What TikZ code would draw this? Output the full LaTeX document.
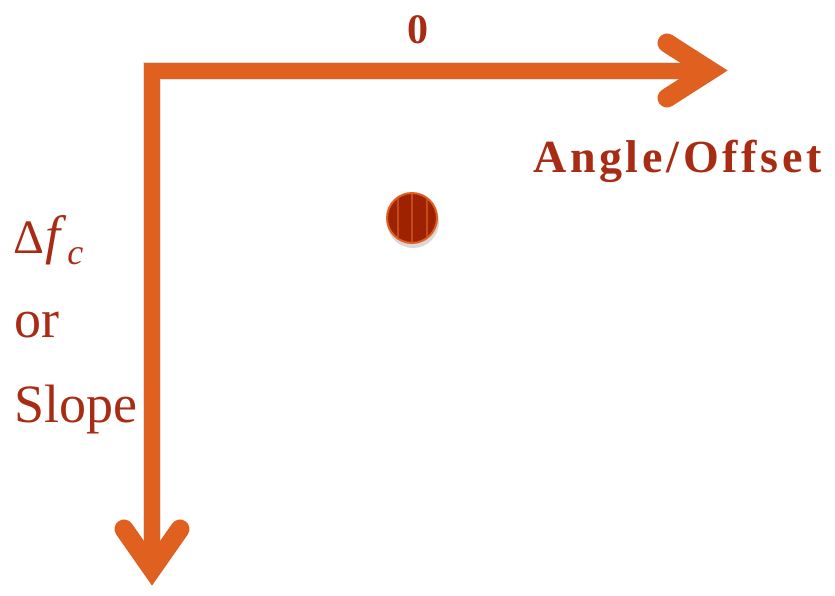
\documentclass[tikz,border=0pt]{standalone}
\usepackage{fontspec}
\setmainfont{Liberation Serif}
\definecolor{axorange}{RGB}{224,96,32}
\definecolor{txtred}{RGB}{168,44,20}
\definecolor{dotred}{RGB}{158,34,2}
\definecolor{stripe}{RGB}{196,74,22}
\tikzset{
  axisline/.style={draw=axorange, line width=16pt, line join=miter, line cap=butt},
  headline/.style={draw=axorange, line width=19pt, line join=miter, line cap=round},
  shadowline/.style={draw=black, opacity=0.12, line width=18pt, line join=miter},
  lbl/.style={inner sep=0pt, text=txtred},
}
\begin{document}
\begin{tikzpicture}[x=1pt,y=-1pt]
\useasboundingbox (0,0) rectangle (835,595);
% coordinates
\coordinate (corner) at (152,70.5);
\coordinate (xend) at (709,70.5);
\coordinate (yend) at (152,569);
\coordinate (xa1) at (667,43);
\coordinate (xtip) at (710,70.5);
\coordinate (xa2) at (667,98);
\coordinate (ya1) at (124,529);
\coordinate (ytip) at (152,569);
\coordinate (ya2) at (180,529);
% shadows
\begin{scope}[shift={(2,3)}]
\draw[shadowline, line cap=butt] (yend) -- (corner) -- (xend);
\draw[shadowline, line cap=round] (xa1) -- (xtip) -- (xa2);
\draw[shadowline, line cap=round] (ya1) -- (ytip) -- (ya2);
\end{scope}
% axes
\draw[axisline] (yend) -- (corner) -- (xend);
\draw[headline] (xa1) -- (xtip) -- (xa2);
\draw[headline] (ya1) -- (ytip) -- (ya2);
% dot
\fill[black, opacity=0.15] (413,222) circle (26);
\node[circle, minimum size=50pt, inner sep=0pt, fill=dotred, draw=axorange, line width=2pt] (dot) at (412,218) {};
\begin{scope}
\clip (412,218) circle (24);
\draw[stripe, line width=2.5pt] (398,190) -- (398,246);
\draw[stripe, line width=2.5pt] (412,190) -- (412,246);
\draw[stripe, line width=2.5pt] (427,190) -- (427,246);
\end{scope}
% labels
\node[lbl, anchor=center] (zero) at (418,30) {\fontsize{42}{42}\selectfont\bfseries 0};
\node[lbl, anchor=base west] (xlabel) at (533,172) {\fontsize{46}{46}\selectfont\bfseries\addfontfeatures{LetterSpace=8}Angle/Offset};
\node[lbl, anchor=base west] (df) at (13,253) {\fontsize{48}{48}\selectfont Δ\kern1pt{\fontsize{54}{54}\selectfont\textit{f}}\kern1pt\raisebox{-11pt}{\fontsize{36}{36}\selectfont\textit{c}}};
\node[lbl, anchor=base west] (or) at (14,337) {\fontsize{54}{54}\selectfont or};
\node[lbl, anchor=base west] (slope) at (14,422) {\fontsize{54}{54}\selectfont Slope};
\end{tikzpicture}
\end{document}
